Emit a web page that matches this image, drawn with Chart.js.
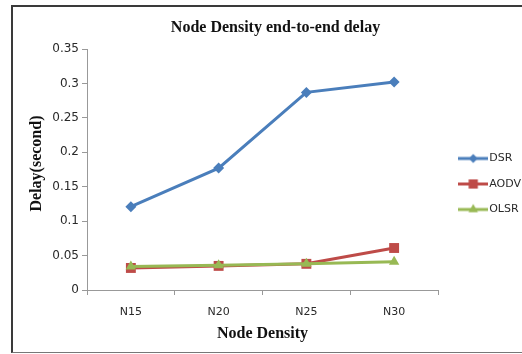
<!DOCTYPE html>
<html>
<head>
<meta charset="utf-8">
<script src="https://cdn.jsdelivr.net/npm/chart.js@4.4.1/dist/chart.umd.min.js"></script>
<style>
  html, body { margin: 0; padding: 0; background: #fff; overflow: hidden; width: 522px; height: 354px; }
  .frame { position: absolute; left: 11px; top: 5px; width: 530px; height: 345px;
           border-top: 2px solid #3a3a3a; border-left: 2px solid #3a3a3a; border-bottom: 1px solid #777; }
  #chart { position: absolute; left: 0; top: 0; }
</style>
</head>
<body>
<div class="frame"></div>
<canvas id="chart" width="531" height="354"></canvas>
<script>
// data
const categories = ['N15', 'N20', 'N25', 'N30'];
const dsr  = [0.121, 0.177, 0.287, 0.302];
const aodv = [0.032, 0.035, 0.038, 0.061];
const olsr = [0.034, 0.036, 0.038, 0.041];
const yTicks = [0, 0.05, 0.1, 0.15, 0.2, 0.25, 0.3, 0.35];
const yTickLabels = ['0', '0.05', '0.1', '0.15', '0.2', '0.25', '0.3', '0.35'];

// colours
const blue = '#4a7ebb';
const red = '#be4b48';
const green = '#98b954';
const axisGray = '#999';
const textCol = '#2a2a2a';

const CANVAS_W = 531;
const PLOT_RIGHT = 438;

const tickFont = { family: 'DejaVu Sans', size: 11 };
const yTickFont = { family: 'DejaVu Sans', size: 12 };
const serifBold = { family: 'Liberation Serif', size: 16, weight: 'bold' };

// small line+marker picture for the legend
function legendIcon(color, style, r) {
  const c = document.createElement('canvas');
  c.width = 30; c.height = 14;
  const g = c.getContext('2d');
  g.strokeStyle = color;
  g.lineWidth = 3;
  g.beginPath(); g.moveTo(0, 7); g.lineTo(30, 7); g.stroke();
  g.fillStyle = color;
  Chart.helpers.drawPoint(g, { pointStyle: style, radius: r, borderWidth: 0 }, 15, 7);
  return c;
}

const icons = [
  legendIcon(blue, 'rectRot', 4.5),
  legendIcon(red, 'rect', 6.5),
  legendIcon(green, 'triangle', 5.5)
];

const ctx = document.getElementById('chart').getContext('2d');
const myChart = new Chart(ctx, {
  type: 'line',
  data: {
    labels: categories,
    datasets: [
      { label: 'DSR', data: dsr, borderColor: blue, backgroundColor: blue,
        pointStyle: 'rectRot', pointRadius: 5.5, order: 2 },
      { label: 'AODV', data: aodv, borderColor: red, backgroundColor: red,
        pointStyle: 'rect', pointRadius: 7, order: 1 },
      { label: 'OLSR', data: olsr, borderColor: green, backgroundColor: green,
        pointStyle: 'triangle', pointRadius: 6, order: 0 }
    ]
  },
  options: {
    responsive: false,
    animation: false,
    devicePixelRatio: 1,
    layout: { padding: { left: 20, top: 14, right: 0, bottom: 0 } },
    elements: {
      line: { borderWidth: 3, tension: 0 },
      point: { borderWidth: 0, hoverRadius: 6 }
    },
    scales: {
      x: {
        offset: true,
        grid: { drawOnChartArea: false, drawTicks: true, tickLength: 5, color: axisGray, offset: true },
        border: { display: true, color: axisGray, width: 1 },
        ticks: { font: tickFont, color: textCol, padding: 11, maxRotation: 0 },
        title: { display: true, text: 'Node Density', font: serifBold, color: '#111',
                 padding: { top: 0, bottom: 10.4 } },
        afterFit: s => { s.height = 64; }
      },
      y: {
        min: 0,
        max: 0.35,
        afterBuildTicks: s => { s.ticks = yTicks.map(v => ({ value: v })); },
        grid: { drawOnChartArea: false, drawTicks: true, tickLength: 5, color: axisGray },
        border: { display: true, color: axisGray, width: 1 },
        ticks: { font: yTickFont, color: textCol, padding: 3,
                 callback: (v, i) => yTickLabels[i] },
        title: { display: true, text: '   Delay(second)', font: serifBold, color: '#111',
                 padding: { top: 7.4, bottom: 0 } },
        afterFit: s => { s.width = 67; }
      },
      // empty spacer between plot and legend
      gap: {
        type: 'linear',
        position: 'right',
        display: true,
        grid: { display: false },
        border: { display: false },
        ticks: { display: false },
        afterFit: s => { s.width = Math.max(0, CANVAS_W - s.chart.legend.width - PLOT_RIGHT); }
      }
    },
    plugins: {
      title: {
        display: true,
        text: 'Node Density end-to-end delay',
        font: serifBold,
        color: '#111',
        padding: { top: 4.4, bottom: 11.4 }
      },
      legend: {
        position: 'right',
        labels: {
          font: tickFont,
          color: textCol,
          padding: 14.5,
          usePointStyle: true,
          pointStyleWidth: 21,
          generateLabels: chart => chart.data.datasets.map((ds, i) => ({
            text: ds.label,
            pointStyle: icons[i],
            fillStyle: ds.borderColor,
            strokeStyle: ds.borderColor,
            fontColor: textCol,
            lineWidth: 0,
            hidden: false,
            datasetIndex: i
          }))
        }
      },
      tooltip: { enabled: false }
    }
  }
});
</script>
</body>
</html>
